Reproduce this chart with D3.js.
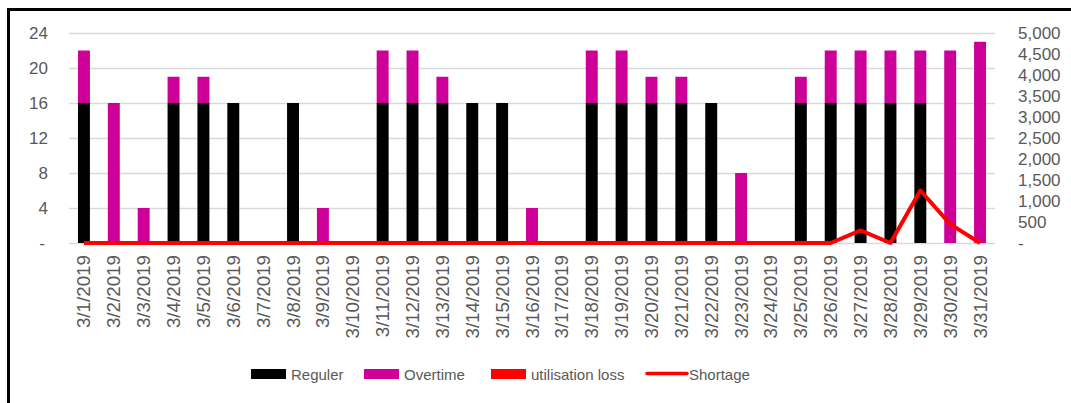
<!DOCTYPE html>
<html>
<head>
<meta charset="utf-8">
<script src="https://cdn.jsdelivr.net/npm/d3@7"></script>
<style>
  html, body { margin: 0; padding: 0; background: #fff; }
  svg { display: block; font-family: "Liberation Sans", Arial, sans-serif; }
</style>
</head>
<body>
<svg id="chart" width="1071" height="403"></svg>
<script>
// Daily hours for March 2019 (left axis) and shortage (right axis)
const dates = [
  "3/1/2019","3/2/2019","3/3/2019","3/4/2019","3/5/2019","3/6/2019","3/7/2019","3/8/2019",
  "3/9/2019","3/10/2019","3/11/2019","3/12/2019","3/13/2019","3/14/2019","3/15/2019","3/16/2019",
  "3/17/2019","3/18/2019","3/19/2019","3/20/2019","3/21/2019","3/22/2019","3/23/2019","3/24/2019",
  "3/25/2019","3/26/2019","3/27/2019","3/28/2019","3/29/2019","3/30/2019","3/31/2019"
];
const reguler = [16,0,0,16,16,16,0,16,0,0,16,16,16,16,16,0,0,16,16,16,16,16,0,0,16,16,16,16,16,0,0];
const overtime = [6,16,4,3,3,0,0,0,4,0,6,6,3,0,0,4,0,6,6,3,3,0,8,0,3,6,6,6,6,22,23];
const utilisationLoss = [0,0,0,0,0,0,0,0,0,0,0,0,0,0,0,0,0,0,0,0,0,0,0,0,0,0,0,0,0,0,0];
const shortage = [0,0,0,0,0,0,0,0,0,0,0,0,0,0,0,0,0,0,0,0,0,0,0,0,0,0,300,0,1250,450,0];

const leftTicks = [0,4,8,12,16,20,24];
const rightTicks = [0,500,1000,1500,2000,2500,3000,3500,4000,4500,5000];

const colors = { reguler: "#000000", overtime: "#CC0099", loss: "#FF0000", shortage: "#FF0000" };
const textColor = "#595959";

const svg = d3.select("#chart");

// Outer frame (only the top and left edges fall inside the image)
svg.append("rect")
  .attr("x", 8.5).attr("y", 9.5)
  .attr("width", 1100).attr("height", 450)
  .attr("fill", "none").attr("stroke", "#000").attr("stroke-width", 3);

const plot = { left: 69, right: 995, top: 33, bottom: 243 };

const x = d3.scaleBand().domain(dates)
  .range([plot.left, plot.right]).paddingInner(0.6).paddingOuter(0.3);
const yL = d3.scaleLinear().domain([0, 24]).range([plot.bottom, plot.top]);
const yR = d3.scaleLinear().domain([0, 5000]).range([plot.bottom, plot.top]);

// Horizontal gridlines
svg.append("g").selectAll("line").data(leftTicks).join("line")
  .attr("x1", plot.left).attr("x2", plot.right)
  .attr("y1", d => Math.round(yL(d)) + 0.5).attr("y2", d => Math.round(yL(d)) + 0.5)
  .attr("stroke", "#d9d9d9").attr("stroke-width", 1.3);

// Left axis labels
const zeroDash = d => d === 0 ? "-" : d3.format(",")(d);
svg.append("g").selectAll("text").data(leftTicks).join("text")
  .attr("x", d => d === 0 ? 45 : 48)
  .attr("y", d => yL(d))
  .attr("dy", "0.35em")
  .attr("text-anchor", "end")
  .attr("font-size", 17).attr("fill", textColor)
  .text(zeroDash);

// Right axis labels
svg.append("g").selectAll("text").data(rightTicks).join("text")
  .attr("x", 1018)
  .attr("y", d => yR(d))
  .attr("dy", "0.35em")
  .attr("text-anchor", "start")
  .attr("font-size", 17).attr("fill", textColor)
  .text(zeroDash);

// Stacked columns
const rows = dates.map((d, i) => ({ date: d, reguler: reguler[i], overtime: overtime[i], loss: utilisationLoss[i] }));
const stack = d3.stack().keys(["reguler", "overtime", "loss"])(rows);
const fillFor = { reguler: colors.reguler, overtime: colors.overtime, loss: colors.loss };

svg.append("g").selectAll("g").data(stack).join("g")
  .attr("fill", s => fillFor[s.key])
  .selectAll("rect").data(s => s).join("rect")
  .attr("x", d => x(d.data.date))
  .attr("width", x.bandwidth())
  .attr("y", d => yL(d[1]))
  .attr("height", d => Math.max(0, yL(d[0]) - yL(d[1])));

// Category labels, rotated
svg.append("g").selectAll("text").data(dates).join("text")
  .attr("transform", d => `translate(${x(d) + x.bandwidth() / 2 + 6.5},255) rotate(-90)`)
  .attr("text-anchor", "end")
  .attr("font-size", 18.8).attr("fill", textColor)
  .text(d => d);

// Shortage line on the secondary axis
const line = d3.line()
  .x((d, i) => x(dates[i]) + x.bandwidth() / 2)
  .y(d => yR(d));
svg.append("path").datum(shortage)
  .attr("d", line)
  .attr("fill", "none")
  .attr("stroke", colors.shortage)
  .attr("stroke-width", 4)
  .attr("stroke-linejoin", "round");

// Legend
const legendItems = [
  { label: "Reguler", color: colors.reguler, type: "rect", x: 251 },
  { label: "Overtime", color: colors.overtime, type: "rect", x: 364 },
  { label: "utilisation loss", color: colors.loss, type: "rect", x: 491 },
  { label: "Shortage", color: colors.shortage, type: "line", x: 647 }
];
const lg = svg.append("g").selectAll("g").data(legendItems).join("g")
  .attr("transform", d => `translate(${d.x},0)`);
lg.filter(d => d.type === "rect").append("rect")
  .attr("x", 0).attr("y", 369).attr("width", 35).attr("height", 10)
  .attr("fill", d => d.color);
lg.filter(d => d.type === "line").append("line")
  .attr("x1", 0).attr("x2", 40).attr("y1", 373.5).attr("y2", 373.5)
  .attr("stroke", d => d.color).attr("stroke-width", 3.5).attr("stroke-linecap", "round");
lg.append("text")
  .attr("x", d => d.type === "line" ? 42 : 40)
  .attr("y", 379.5)
  .attr("font-size", 15).attr("fill", textColor)
  .text(d => d.label);
</script>
</body>
</html>
